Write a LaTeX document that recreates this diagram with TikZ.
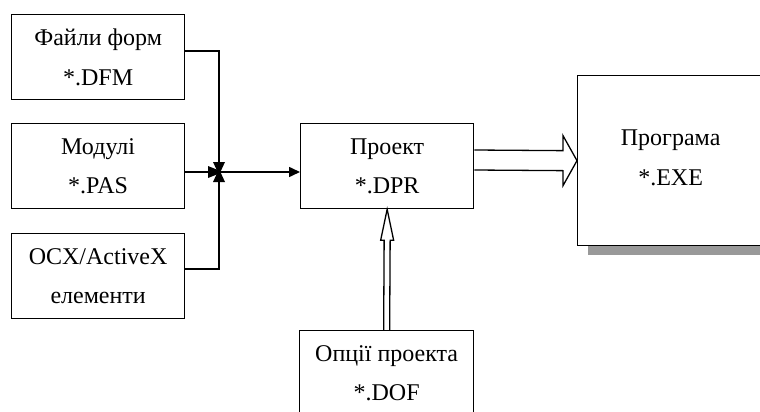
\documentclass[tikz,border=0pt]{standalone}
\usepackage{fontspec}
\setmainfont{Liberation Serif}
\usetikzlibrary{calc,arrows.meta}

\begin{document}
\begin{tikzpicture}[x=1pt,y=-1pt,
  box/.style={draw, line width=1.3pt, minimum width=173pt, minimum height=85pt,
    anchor=north west, inner sep=0pt, align=center,
    font=\fontsize{24}{39.5}\selectfont},
  conn/.style={line width=1.6pt},
  hollow/.style={draw, line width=1.3pt, line join=miter},
  jtip/.style={fill=black}]
\useasboundingbox (0,0) rectangle (760,412);

% source files
\node[box] (dfm) at (11,14) {Файли форм\\*.DFM};
\node[box] (pas) at (11,123) {Модулі\\*.PAS};
\node[box] (ocx) at (11,233) {OCX/ActiveX\\елементи};

% project and options
\node[box] (proj) at (300,123) {Проект\\*.DPR};
\node[box, minimum width=174pt] (opt) at (299,330) {Опції проекта\\*.DOF};

% resulting program with its shadow
\fill[black!40] (588,245) rectangle (763,255);
\node[box, minimum width=186pt, minimum height=170pt, text depth=6pt] (prog) at (577,75) {Програма\\*.EXE};

% merging connectors
\coordinate (j) at (219,172);
\draw[conn] ($(dfm.north east)+(0,37)$) -| (j);
\draw[conn] ($(ocx.north east)+(0,36)$) -| (j);
\draw[conn] ($(pas.north east)+(0,49)$) -- (j);
\draw[conn, -{Triangle[length=11pt,width=10pt]}] (j) -- (proj.west |- j);

% arrow tips meeting at the junction
\fill[jtip] ($(j)+(0,3)$) -- ++(-6,-13) -- ++(12,0) -- cycle;
\fill[jtip] ($(j)+(0,-3)$) -- ++(-6,13) -- ++(12,0) -- cycle;
\fill[jtip] ($(j)+(4,0)$) -- ++(-15,-6) -- ++(0,12) -- cycle;

% hollow arrow: project -> program
\draw[hollow] ($(proj.north east)+(0,27)$) -- ($(prog.west)+(-14,-10)$)
  -- ($(prog.west)+(-14,-25)$) -- (prog.west) -- ($(prog.west)+(-14,25)$)
  -- ($(prog.west)+(-14,10)$) -- ($(proj.north east)+(0,47)$);

% hollow arrow: options -> project
\draw[hollow] ($(opt.north)+(-3,0)$) -- ($(proj.south)+(-3,31)$)
  -- ($(proj.south)+(-6.5,31)$) -- (proj.south) -- ($(proj.south)+(6.5,31)$)
  -- ($(proj.south)+(3,31)$) -- ($(opt.north)+(3,0)$);
\end{tikzpicture}
\end{document}
